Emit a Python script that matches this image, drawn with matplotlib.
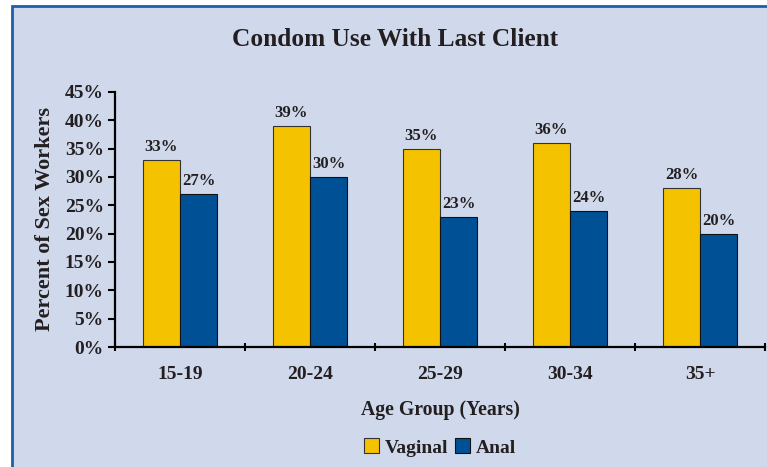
import numpy as np
import matplotlib
matplotlib.use('Agg')
import matplotlib.pyplot as plt
from matplotlib.patches import Rectangle

grupos = ['15-19', '20-24', '25-29', '30-34', '35+']
vaginal = [33, 39, 35, 36, 28]
anal = [27, 30, 23, 24, 20]
yticks = [0, 5, 10, 15, 20, 25, 30, 35, 40, 45]

fondo = '#d0d9ec'
amarillo = '#f5c200'
azul = '#005096'
texto = '#231f20'

plt.rcParams['font.family'] = 'Liberation Serif'
plt.rcParams['font.weight'] = 'bold'
plt.rcParams['axes.labelweight'] = 'bold'

fig = plt.figure(figsize=(7.67, 4.67), dpi=100)
fig.patch.set_facecolor('white')
marco = Rectangle((12/767, -0.2), 1.2, 1.2 - 6/467 , transform=fig.transFigure,
                  facecolor=fondo, edgecolor='#1f5fa8', linewidth=2, zorder=-1)
fig.patches.append(marco)

ax = fig.add_axes([115/767, 1-347/467, 650/767, 255/467])
ax.set_facecolor('none')

x = np.arange(len(grupos))
w = 0.285
b1 = ax.bar(x - w/2, vaginal, w, color=amarillo, edgecolor='#333333', linewidth=0.8)
b2 = ax.bar(x + w/2, anal, w, color=azul, edgecolor='#111111', linewidth=0.8)
for barras, vals in ((b1, vaginal), (b2, anal)):
    for r, v in zip(barras, vals):
        ax.annotate(f'{v}%', (r.get_x() + r.get_width()/2, v), xytext=(0, 3.5),
                    textcoords='offset points', ha='center', va='bottom',
                    fontsize=12, color=texto, fontweight='bold')

ax.set_xlim(-0.5, len(grupos) - 0.5)
ax.set_ylim(0, 45)
ax.set_yticks(yticks)
ax.set_yticklabels([f'{t}%' for t in yticks], fontsize=14, color=texto)
ax.set_xticks(np.arange(len(grupos) + 1) - 0.5)
ax.set_xticklabels([])
ax.set_xticks(x, minor=True)
ax.set_xticklabels(grupos, minor=True, fontsize=14, color=texto)
ax.tick_params(axis='x', which='minor', length=0, pad=14)
ax.tick_params(axis='x', which='major', length=6, width=1.5, direction='inout')
ax.tick_params(axis='y', length=5, width=1.5, pad=3)
for s in ['top', 'right']:
    ax.spines[s].set_visible(False)
for s in ['left', 'bottom']:
    ax.spines[s].set_linewidth(1.6)

ax.set_ylabel('Percent of Sex Workers', fontsize=16, color=texto, labelpad=7,
              fontweight='bold')
ax.set_xlabel('Age Group (Years)', fontsize=14.2, color=texto, labelpad=12,
              fontweight='bold')
fig.text(395/767, 1-40/467, 'Condom Use With Last Client', ha='center', va='center',
         fontsize=18.3, fontweight='bold', color=texto)

leg = ax.legend([b1, b2], ['Vaginal', 'Anal'], loc='upper center',
                bbox_to_anchor=(0.5, -0.29), ncol=2, frameon=False,
                fontsize=14, handlelength=0.8, handleheight=0.8,
                handletextpad=0.3, columnspacing=0.3)
for t in leg.get_texts():
    t.set_color(texto)

fig.savefig('out.png', dpi=100)
